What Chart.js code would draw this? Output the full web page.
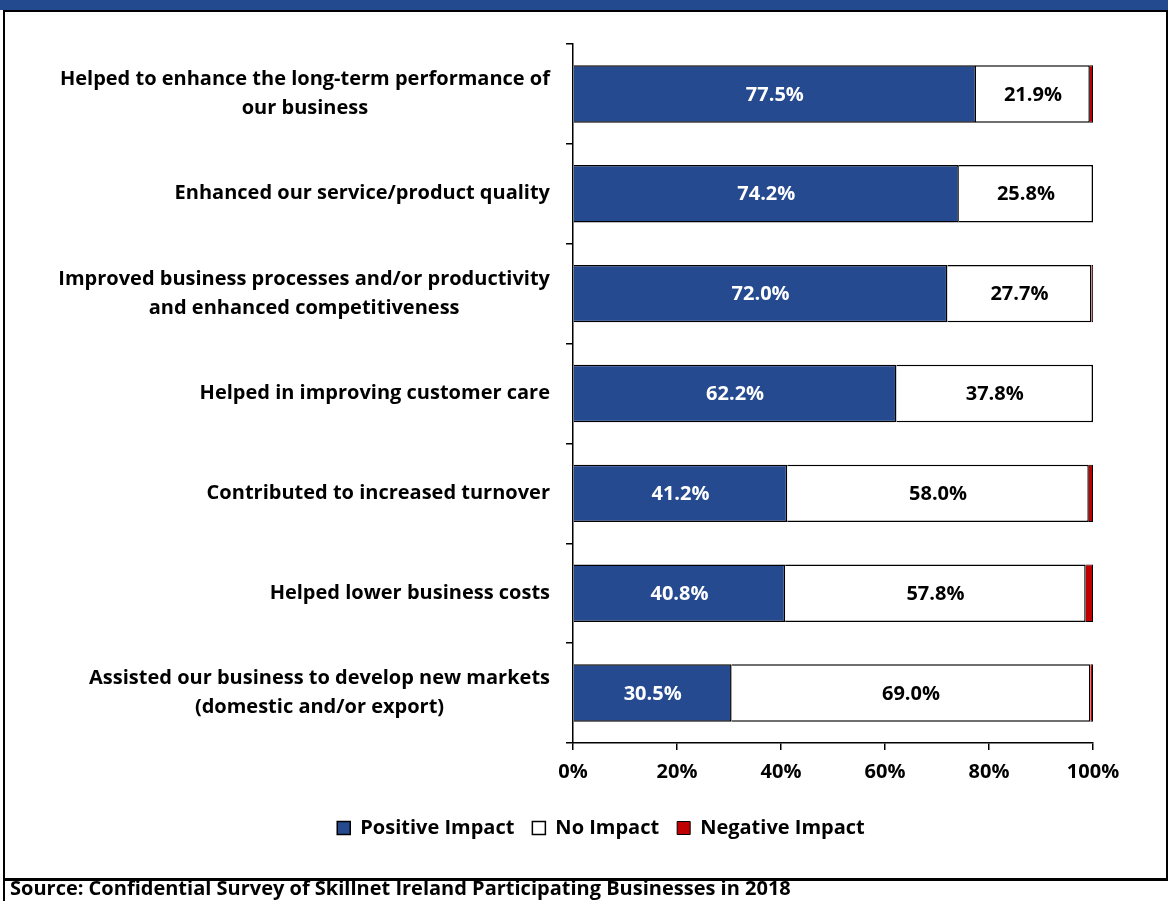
<!DOCTYPE html>
<html>
<head>
<meta charset="utf-8">
<script src="https://cdn.jsdelivr.net/npm/chart.js@4.4.1/dist/chart.umd.min.js"></script>
<style>
  body { margin: 0; background: #fff; width: 1168px; height: 901px; position: relative; overflow: hidden; font-family: "Open Sans", sans-serif; }
  #header { position: absolute; left: 0; top: 0; width: 1168px; height: 10px; background: #234A8F; }
  #frame { position: absolute; left: 3px; top: 10px; width: 1161px; height: 866px; border: 2px solid #000; border-bottom-width: 3px; }
  #leftline { position: absolute; left: 3px; top: 878px; width: 2px; height: 23px; background: #000; }
  #source { position: absolute; left: 10px; top: 874px; font-weight: bold; font-size: 20px; color: #000; }
  #wrap { position: absolute; left: 5px; top: 12px; width: 1159px; height: 864px; }
</style>
</head>
<body>
<div id="header"></div>
<div id="frame"></div>
<div id="leftline"></div>
<div id="wrap"><canvas id="impact_plot"></canvas></div>
<div id="source">Source: Confidential Survey of Skillnet Ireland Participating Businesses in 2018</div>
<script>
// survey statements, one per bar (lines split as printed)
const categories = [
    ['Helped to enhance the long-term performance of', 'our business'],
    ['Enhanced our service/product quality'],
    ['Improved business processes and/or productivity', 'and enhanced competitiveness'],
    ['Helped in improving customer care'],
    ['Contributed to increased turnover'],
    ['Helped lower business costs'],
    ['Assisted our business to develop new markets', '(domestic and/or export)']
];
const positiveImpact = [77.5, 74.2, 72.0, 62.2, 41.2, 40.8, 30.5];
const noImpact = [21.9, 25.8, 27.7, 37.8, 58.0, 57.8, 69.0];
const negativeImpact = [0.6, 0.0, 0.3, 0.0, 0.8, 1.4, 0.5];
const xTicks = [0, 20, 40, 60, 80, 100];

const FONT = '"Open Sans", sans-serif';

// category labels: block right-aligned to the axis, lines centred inside it
const yLabelPlugin = {
    id: 'yLabels',
    afterDraw(chart) {
        const ctx = chart.ctx;
        const ys = chart.scales.y;
        const right = chart.chartArea.left - 23;
        const lineH = 29;
        ctx.save();
        ctx.font = 'bold 20px ' + FONT;
        ctx.fillStyle = '#000';
        ctx.textAlign = 'center';
        ctx.textBaseline = 'middle';
        categories.forEach((lines, i) => {
            const maxW = Math.max(...lines.map(l => ctx.measureText(l).width));
            const cx = right - maxW / 2;
            const cy = ys.getPixelForValue(i);
            const y0 = cy - (lines.length - 1) * lineH / 2;
            lines.forEach((l, k) => ctx.fillText(l, cx, y0 + k * lineH));
        });
        ctx.restore();
    }
};

// value labels in the middle of each segment
const valueLabelPlugin = {
    id: 'valueLabels',
    afterDatasetsDraw(chart) {
        const ctx = chart.ctx;
        ctx.save();
        ctx.font = 'bold 20px ' + FONT;
        ctx.textAlign = 'center';
        ctx.textBaseline = 'middle';
        [0, 1].forEach(di => {
            const meta = chart.getDatasetMeta(di);
            meta.data.forEach((bar, i) => {
                const v = chart.data.datasets[di].data[i];
                ctx.fillStyle = di === 0 ? '#fff' : '#000';
                ctx.fillText(v.toFixed(1) + '%', (bar.x + bar.base) / 2, bar.y + 1);
            });
        });
        ctx.restore();
    }
};

new Chart(document.getElementById('impact_plot').getContext('2d'), {
    type: 'bar',
    data: {
        labels: categories.map(c => c.join(' ')),
        datasets: [{
            label: 'Positive Impact',
            data: positiveImpact,
            backgroundColor: '#264A8F',
            borderColor: '#000',
            borderWidth: 1.5
        }, {
            label: 'No Impact',
            data: noImpact,
            backgroundColor: '#fff',
            borderColor: '#000',
            borderWidth: 1.5
        }, {
            label: 'Negative Impact',
            data: negativeImpact,
            backgroundColor: '#C00000',
            borderColor: '#000',
            borderWidth: 1
        }]
    },
    options: {
        indexAxis: 'y',
        responsive: true,
        maintainAspectRatio: false,
        animation: false,
        barPercentage: 0.575,
        categoryPercentage: 1,
        layout: {
            padding: { left: 104, right: 71, top: 32, bottom: 28 }
        },
        plugins: {
            tooltip: { enabled: false },
            legend: {
                position: 'bottom',
                labels: {
                    color: '#000',
                    boxWidth: 13,
                    boxHeight: 13,
                    padding: 18,
                    font: { family: FONT, size: 20, weight: 'bold' }
                }
            }
        },
        scales: {
            x: {
                stacked: true,
                min: 0,
                max: 100,
                afterBuildTicks: scale => { scale.ticks = xTicks.map(v => ({ value: v })); },
                afterFit: scale => { scale.height += 6; },
                ticks: {
                    color: '#000',
                    padding: 10,
                    font: { family: FONT, size: 20, weight: 'bold' },
                    callback: v => v + '%'
                },
                grid: {
                    drawOnChartArea: false,
                    drawTicks: true,
                    tickLength: 7,
                    color: '#000',
                    lineWidth: 1.5
                },
                border: { color: '#000', width: 1.5 }
            },
            y: {
                stacked: true,
                ticks: { display: false },
                afterFit: scale => { scale.width = 464; },
                grid: {
                    offset: true,
                    drawOnChartArea: false,
                    drawTicks: true,
                    tickLength: 7,
                    color: '#000',
                    lineWidth: 1.5
                },
                border: { color: '#000', width: 1.5 }
            }
        }
    },
    plugins: [yLabelPlugin, valueLabelPlugin]
});
</script>
</body>
</html>
